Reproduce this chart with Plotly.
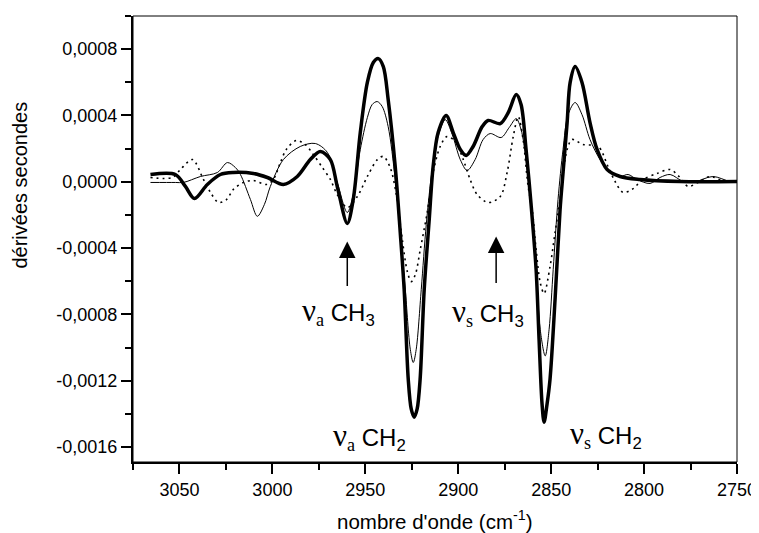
import plotly.graph_objects as go

# ---- data (wavenumber in cm-1, second derivative) ----
thick_x = [3065.6, 3052.2, 3046.8, 3041.9, 3035.0, 3028.0, 3021.0, 3010.2, 3002.7, 2994.1,
           2986.6, 2979.6, 2974.2, 2968.8, 2965.1, 2959.7, 2956.5, 2952.7, 2948.9, 2945.7,
           2943.0, 2940.3, 2937.7, 2933.9, 2931.2, 2929.1, 2926.9, 2925.3, 2923.7, 2922.1,
           2920.5, 2918.3, 2915.6, 2913.5, 2910.8, 2906.5, 2902.7, 2898.9, 2895.7, 2892.0,
           2887.1, 2883.9, 2877.4, 2873.1, 2868.8, 2866.2, 2863.5, 2860.8, 2858.1, 2856.5,
           2854.9, 2853.8, 2852.2, 2850.6, 2847.9, 2845.2, 2843.6, 2841.4, 2839.8, 2837.1,
           2833.4, 2829.1, 2825.3, 2819.9, 2812.9, 2802.2, 2780.7, 2750.0]
thick_y = [0.44e-4, 0.44e-4, -0.28e-4, -1.01e-4, -0.16e-4, 0.44e-4, 0.56e-4, 0.50e-4, 0.26e-4, -0.16e-4,
           0.32e-4, 1.34e-4, 1.83e-4, 1.34e-4, -0.28e-4, -2.51e-4, -1.07e-4, 2.97e-4, 5.99e-4, 7.19e-4,
           7.43e-4, 6.95e-4, 4.96e-4, 0.92e-4, -3.06e-4, -6.49e-4, -11.9e-4, -13.7e-4, -14.2e-4, -13.7e-4,
           -11.9e-4, -6.49e-4, -2.27e-4, 0.92e-4, 2.97e-4, 4.00e-4, 2.97e-4, 1.95e-4, 1.59e-4, 2.13e-4,
           3.33e-4, 3.70e-4, 3.51e-4, 4.17e-4, 5.26e-4, 4.66e-4, 1.95e-4, -1.37e-4, -5.29e-4, -9.51e-4,
           -13.4e-4, -14.5e-4, -13.4e-4, -11.9e-4, -7.10e-4, -1.68e-4, 0.56e-4, 3.57e-4, 5.98e-4, 6.95e-4,
           5.99e-4, 3.57e-4, 1.95e-4, 0.74e-4, 0.32e-4, 0.14e-4, 0.02e-4, 0.02e-4]

thin_x = [3065.6, 3052.2, 3047.9, 3038.7, 3029.6, 3024.2, 3019.9, 3017.2, 3011.8, 3008.1,
          3004.3, 3001.1, 2994.1, 2985.0, 2976.9, 2970.4, 2965.1, 2959.7, 2956.5, 2952.7,
          2948.9, 2946.3, 2943.6, 2940.9, 2937.7, 2933.9, 2931.2, 2928.5, 2925.8, 2924.2,
          2922.6, 2919.9, 2917.2, 2914.0, 2910.8, 2907.0, 2903.2, 2898.9, 2895.2, 2890.9,
          2886.6, 2882.8, 2876.9, 2872.6, 2868.8, 2866.2, 2863.5, 2860.8, 2858.1, 2855.9,
          2853.2, 2851.1, 2848.9, 2846.3, 2843.6, 2840.9, 2837.1, 2833.4, 2829.1, 2823.7,
          2818.3, 2812.9, 2808.6, 2803.8, 2796.8, 2791.4, 2786.0, 2779.0, 2773.7, 2763.0,
          2753.8, 2750.0]
thin_y = [-0.04e-4, -0.04e-4, -0.04e-4, 0.32e-4, 0.56e-4, 1.16e-4, 0.86e-4, 0.44e-4, -1.07e-4, -2.08e-4,
          -1.37e-4, -0.28e-4, 1.34e-4, 2.13e-4, 2.31e-4, 1.77e-4, -0.04e-4, -1.85e-4, -0.77e-4, 1.95e-4,
          3.87e-4, 4.66e-4, 4.84e-4, 4.54e-4, 3.33e-4, 0.14e-4, -3.18e-4, -6.49e-4, -10.1e-4, -10.9e-4,
          -10.1e-4, -6.49e-4, -2.57e-4, 0.74e-4, 2.75e-4, 3.75e-4, 2.85e-4, 1.34e-4, 0.68e-4, 1.34e-4,
          2.55e-4, 2.91e-4, 2.67e-4, 3.27e-4, 3.81e-4, 3.15e-4, 1.34e-4, -1.68e-4, -5.29e-4, -8.90e-4,
          -10.5e-4, -8.90e-4, -5.29e-4, -1.07e-4, 1.95e-4, 4.05e-4, 4.78e-4, 4.05e-4, 2.55e-4, 1.34e-4,
          0.56e-4, 0.32e-4, 0.44e-4, 0.14e-4, -0.10e-4, 0.26e-4, 0.44e-4, 0.02e-4, -0.04e-4, 0.32e-4,
          0.02e-4, 0.02e-4]

dot_x = [3065.6, 3053.8, 3049.5, 3043.0, 3037.1, 3033.3, 3029.0, 3024.7, 3021.0, 3015.6,
         3010.2, 3003.2, 2999.5, 2995.7, 2992.5, 2987.1, 2982.3, 2978.0, 2973.1, 2968.8,
         2965.1, 2959.7, 2954.3, 2948.9, 2943.5, 2940.3, 2936.6, 2933.3, 2930.1, 2927.4,
         2925.3, 2923.1, 2920.4, 2916.7, 2913.5, 2909.7, 2906.0, 2901.6, 2897.3, 2893.6,
         2889.8, 2883.9, 2877.4, 2873.7, 2870.4, 2867.7, 2865.1, 2862.4, 2860.2, 2858.1,
         2855.9, 2853.8, 2850.6, 2847.9, 2845.2, 2841.4, 2838.7, 2832.8, 2824.7, 2819.4,
         2815.6, 2811.3, 2806.5, 2800.6, 2793.0, 2786.0, 2781.2, 2776.3, 2771.0, 2764.5,
         2758.1, 2750.0]
dot_y = [0.26e-4, 0.26e-4, 0.74e-4, 1.34e-4, 0.14e-4, -0.64e-4, -1.25e-4, -1.07e-4, -0.46e-4, -0.04e-4,
         0.08e-4, -0.16e-4, 0.14e-4, 1.16e-4, 1.95e-4, 2.49e-4, 2.25e-4, 1.65e-4, 0.86e-4, 0.14e-4,
         -0.77e-4, -1.55e-4, -0.89e-4, 0.32e-4, 1.34e-4, 1.53e-4, 0.86e-4, -0.77e-4, -3.48e-4, -5.41e-4,
         -6.02e-4, -5.60e-4, -4.07e-4, -1.85e-4, 0.56e-4, 2.13e-4, 2.73e-4, 2.43e-4, 1.34e-4, 0.14e-4,
         -0.77e-4, -1.25e-4, -0.89e-4, 0.56e-4, 2.73e-4, 3.93e-4, 2.55e-4, -0.28e-4, -1.68e-4, -4.07e-4,
         -6.07e-4, -6.74e-4, -5.11e-4, -3.06e-4, -1.07e-4, 1.95e-4, 2.55e-4, 2.25e-4, 2.13e-4, 0.92e-4,
         0.02e-4, -0.64e-4, -0.46e-4, 0.14e-4, 0.50e-4, 0.74e-4, 0.32e-4, -0.28e-4, -0.04e-4, 0.32e-4,
         0.08e-4, 0.02e-4]

x_tick_vals = [3050, 3000, 2950, 2900, 2850, 2800, 2750]
x_tick_text = ["3050", "3000", "2950", "2900", "2850", "2800", "2750"]
y_tick_vals = [0.0008, 0.0004, 0.0, -0.0004, -0.0008, -0.0012, -0.0016]
y_tick_text = ["0,0008", "0,0004", "0,0000", "-0,0004", "-0,0008", "-0,0012", "-0,0016"]

x_title = "nombre d'onde (cm<sup>-1</sup>)"
y_title = "dérivées secondes"

# band labels: (x, y, greek subscript, group subscript)
band_labels = [
    (2964.5, -0.000782, "a", "3"),
    (2947.9, -0.001536, "a", "2"),
    (2883.9, -0.000788, "s", "3"),
    (2820.5, -0.001524, "s", "2"),
]
# arrows: (x, tip y, tail y)
arrows = [
    (2959.7, -0.00036, -0.000637),
    (2879.6, -0.00033, -0.000619),
]

fig = go.Figure()
fig.add_trace(go.Scatter(x=dot_x, y=dot_y, mode="lines",
                         line=dict(color="black", width=1.6, dash="2px,4px", shape="spline", smoothing=0.9),
                         hoverinfo="skip"))
fig.add_trace(go.Scatter(x=thin_x, y=thin_y, mode="lines",
                         line=dict(color="black", width=1, shape="spline", smoothing=0.9),
                         hoverinfo="skip"))
fig.add_trace(go.Scatter(x=thick_x, y=thick_y, mode="lines",
                         line=dict(color="black", width=3.5, shape="spline", smoothing=0.9),
                         hoverinfo="skip"))

for (bx, by, g, grp) in band_labels:
    fig.add_annotation(
        x=bx, y=by, xref="x", yref="y", showarrow=False,
        text=("<span style='font-family:Liberation Serif;font-size:31px'>ν</span>"
              "<span style='font-family:Liberation Serif;font-size:26px'><sub>" + g + "</sub></span>"
              " CH<sub>" + grp + "</sub>"),
        font=dict(family="Liberation Sans, Arial", size=24, color="black"),
    )

for (axx, tip, tail) in arrows:
    fig.add_annotation(
        x=axx, y=tip, ax=axx, ay=tail, xref="x", yref="y", axref="x", ayref="y",
        text="", showarrow=True, arrowhead=2, arrowsize=2.2, arrowwidth=1.5, arrowcolor="black",
    )

# axis titles placed like in the reference
fig.add_annotation(
    x=-0.187, y=0.62, xref="paper", yref="paper", showarrow=False,
    text=y_title, textangle=-90, xanchor="center", yanchor="middle",
    font=dict(family="Liberation Sans, Arial", size=20, color="black"),
)
fig.add_annotation(
    x=0.5, y=-0.131, xref="paper", yref="paper", showarrow=False,
    text=x_title, xanchor="center", yanchor="middle",
    font=dict(family="Liberation Sans, Arial", size=20.5, color="black"),
)

# the page body adds an 8px offset, so the figure is drawn 8px smaller
fig.update_layout(
    width=751, height=525,
    margin=dict(l=125, r=22, t=8, b=71),
    paper_bgcolor="white", plot_bgcolor="white",
    showlegend=False,
    font=dict(family="Liberation Sans, Arial", color="black"),
    shapes=[dict(type="rect", xref="paper", yref="paper", x0=0, y0=0, x1=1, y1=1,
                 line=dict(color="black", width=1), layer="above")],
)
fig.update_xaxes(
    range=[3075, 2750], showgrid=False, zeroline=False, automargin=False,
    showline=True, linewidth=2, linecolor="black",
    ticks="outside", ticklen=10, tickwidth=1.5, tickcolor="black",
    tickvals=x_tick_vals, ticktext=x_tick_text, tickfont=dict(size=18),
    minor=dict(dtick=25, tick0=2750, ticks="outside", ticklen=6, tickwidth=1.5, tickcolor="black"),
)
fig.update_yaxes(
    range=[-0.00169, 0.001], showgrid=False, zeroline=False, automargin=False,
    showline=True, linewidth=2, linecolor="black",
    ticks="outside", ticklen=10, tickwidth=1.5, tickcolor="black",
    tickvals=y_tick_vals, ticktext=y_tick_text, tickfont=dict(size=18),
    minor=dict(dtick=0.0002, tick0=0, ticks="outside", ticklen=6, tickwidth=1.5, tickcolor="black"),
)

fig.write_html("out.html")
